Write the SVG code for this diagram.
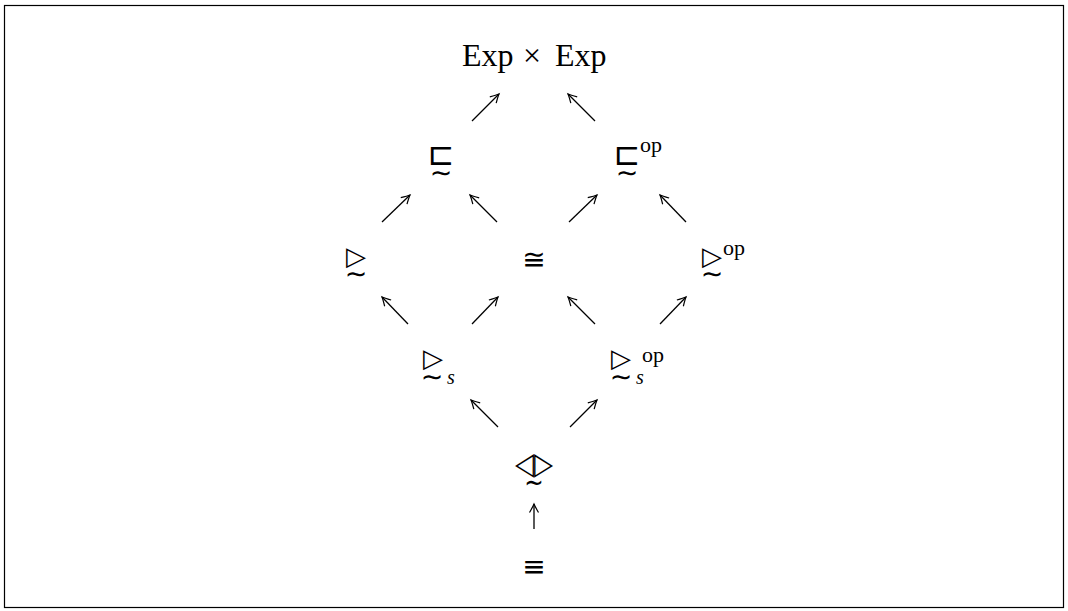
<svg xmlns="http://www.w3.org/2000/svg" width="1068" height="611" viewBox="0 0 1068 611">
<defs>
<style>
.t{font-family:"Liberation Serif","DejaVu Serif",serif;fill:#000}
.m{font-family:"DejaVu Sans","DejaVu Serif",sans-serif;fill:#000;text-anchor:middle}
.a{stroke:#000;stroke-width:1.3;fill:none;marker-end:url(#h)}
</style>
<marker id="h" markerUnits="userSpaceOnUse" viewBox="-10 -6 12 12" refX="0" refY="0" markerWidth="12" markerHeight="12" orient="auto" overflow="visible">
<path d="M-8.5,-4.5 Q-2.5,-1 0,0 Q-2.5,1 -8.5,4.5" fill="none" stroke="#000" stroke-width="1.2"/>
</marker>
</defs>
<rect x="4.5" y="5.5" width="1059" height="602" fill="#fff" stroke="#000" stroke-width="1.2"/>
<g id="n-exp">
<text class="t" font-size="32"><tspan x="462" y="66">Exp</tspan><tspan x="532" y="66" text-anchor="middle">×</tspan><tspan x="555" y="66">Exp</tspan></text>
</g>
<g id="n-sqsub">
<text class="m"><tspan x="441" y="165" font-size="32">⊏</tspan><tspan x="441" y="182" font-size="27">∼</tspan></text>
</g>
<g id="n-sqsub-op">
<text class="m"><tspan x="627" y="165" font-size="32">⊏</tspan><tspan x="627" y="182" font-size="27">∼</tspan></text>
<text class="t" x="640" y="152" font-size="22">op</text>
</g>
<g id="n-rhd">
<text class="m"><tspan x="356" y="265" font-size="26">▷</tspan><tspan x="356" y="283" font-size="27">∼</tspan></text>
</g>
<g id="n-cong">
<text class="m" x="534" y="269" font-size="28">≅</text>
</g>
<g id="n-rhd-op">
<text class="m"><tspan x="712" y="265" font-size="26">▷</tspan><tspan x="712" y="283" font-size="27">∼</tspan></text>
<text class="t" x="723" y="255" font-size="22">op</text>
</g>
<g id="n-rhd-s">
<text class="m"><tspan x="433" y="367" font-size="26">▷</tspan><tspan x="432" y="386" font-size="27">∼</tspan><tspan class="t" x="447" y="384" font-size="20" font-style="italic" text-anchor="start">s</tspan></text>
</g>
<g id="n-rhd-s-op">
<text class="m"><tspan x="621" y="367" font-size="26">▷</tspan><tspan x="621" y="386" font-size="27">∼</tspan><tspan class="t" x="636" y="384" font-size="20" font-style="italic" text-anchor="start">s</tspan></text>
<text class="t" x="642" y="362" font-size="22">op</text>
</g>
<g id="n-bowtie">
<text class="m" transform="translate(534,0) scale(0.8,1)"><tspan x="-11.9" y="474" font-size="31">◁</tspan><tspan x="11.9" y="474" font-size="31">▷</tspan><tspan x="0" y="492" font-size="29">∼</tspan></text>
</g>
<g id="n-equiv">
<text class="m" x="534" y="576" font-size="28">≡</text>
</g>
<g id="connectors">
<path class="a" d="M472,121 L499,94"/>
<path class="a" d="M595,121 L568,94"/>
<path class="a" d="M382,222 L410,195"/>
<path class="a" d="M497,222 L470,195"/>
<path class="a" d="M569,222 L597,195"/>
<path class="a" d="M686,222 L660,195"/>
<path class="a" d="M408,324 L382,297"/>
<path class="a" d="M472,324 L498,297"/>
<path class="a" d="M595,324 L568,297"/>
<path class="a" d="M660,324 L686,297"/>
<path class="a" d="M498,427 L471,400"/>
<path class="a" d="M570,427 L597,400"/>
<path class="a" d="M534,529 L534,504"/>
</g>
</svg>
